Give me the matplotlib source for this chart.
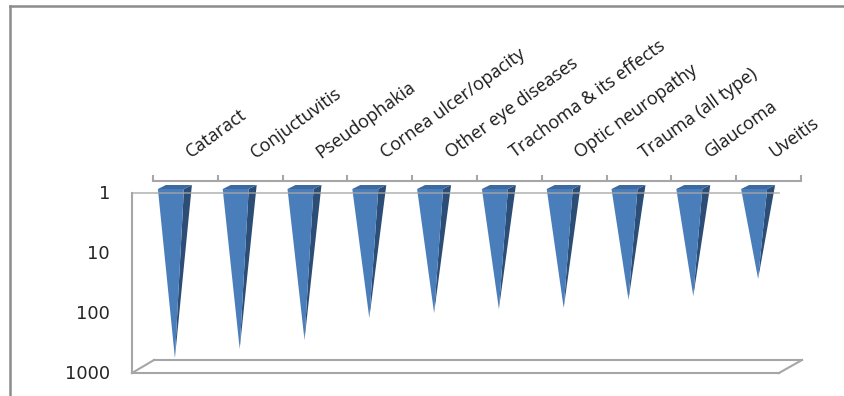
import numpy as np
import matplotlib
matplotlib.use("Agg")
import matplotlib.pyplot as plt
from matplotlib.lines import Line2D
from matplotlib.patches import Polygon
from matplotlib.transforms import IdentityTransform, ScaledTranslation

categories = ["Cataract", "Conjuctuvitis", "Pseudophakia", "Cornea ulcer/opacity",
              "Other eye diseases", "Trachoma & its effects", "Optic neuropathy",
              "Trauma (all type)", "Glaucoma", "Uveitis"]
values = [708, 500, 355, 153, 126, 108, 104, 76, 66, 34]
y_ticks = [1, 10, 100, 1000]

W, H = 844, 396
FRONT_COLOR = "#4a7ebb"
SIDE_COLOR = "#2c4d75"
TOP_COLOR = "#3c6aa0"
WALL_COLOR = "#a6a6a6"

fig = plt.figure(figsize=(W / 100, H / 100), dpi=100)


def fig_box(x0, y0, x1, y1):
    return [x0 / W, 1 - y1 / H, (x1 - x0) / W, (y1 - y0) / H]


# the axes is the back wall of the 3D box
ax = fig.add_axes(fig_box(153, 181, 801, 361))
ax.set_xlim(0, len(categories))
ax.set_yscale("log")
ax.set_ylim(1000, 1)
ax.patch.set_visible(False)
for s in ["left", "right", "bottom"]:
    ax.spines[s].set_visible(False)
ax.spines["top"].set_color(WALL_COLOR)
ax.spines["top"].set_linewidth(1.5)

ax.xaxis.tick_top()
ax.set_xticks(np.arange(len(categories) + 1))
ax.set_xticklabels([])
ax.set_xticks(np.arange(len(categories)) + 0.5, minor=True)
ax.set_xticklabels(categories, minor=True, rotation=36, rotation_mode="anchor",
                   ha="left", va="bottom", fontsize=13, color="#1a1a1a",
                   family="Open Sans")
ax.tick_params(axis="x", which="major", length=4.5, width=1.5, color=WALL_COLOR)
ax.tick_params(axis="x", which="minor", length=0, pad=14)
ax.yaxis.set_major_locator(plt.NullLocator())
ax.yaxis.set_minor_locator(plt.NullLocator())

# nudge the slanted labels to the right of their tick centres
shift = ScaledTranslation(8 / 100, 0, fig.dpi_scale_trans)
for label in ax.get_xticklabels(minor=True):
    label.set_transform(label.get_transform() + shift)

for t in y_ticks:
    ax.annotate(str(t), xy=(0, t), xycoords=("axes fraction", "data"),
                xytext=(-43, -13), textcoords="offset pixels", ha="right",
                va="center", fontsize=13, color="#262626", family="DejaVu Sans")


def to_px(x, v, dx=0, dy=0):
    # display position of a data point shifted by dx, dy pixels (dy up)
    px, py = ax.transData.transform((x, v))
    return (px + dx, py + dy)


def box_line(x0, y0, x1, y1, z=1):
    fig.add_artist(Line2D([x0 / W, x1 / W], [1 - y0 / H, 1 - y1 / H],
                          color=WALL_COLOR, lw=1.5, zorder=z))


# floor and left wall of the box
box_line(132, 193, 132, 373)
box_line(132, 373, 779, 373)
box_line(132, 373, 154, 360)
box_line(154, 360, 802, 360)
box_line(779, 373, 802, 360)

half_w = 13 / 64.8
for i, v in enumerate(values):
    c = i + 0.5
    tip = to_px(c, v, -10.5, -6)
    fl = to_px(c - half_w, 1, -14.5, -8)
    fr = to_px(c + half_w, 1, -14.5, -8)
    bl = to_px(c - half_w, 1, -6.5, -4)
    br = to_px(c + half_w, 1, -6.5, -4)
    for pts, col in [([fr, br, tip], SIDE_COLOR), ([fl, fr, br, bl], TOP_COLOR),
                     ([fl, fr, tip], FRONT_COLOR)]:
        fig.add_artist(Polygon(pts, closed=True, facecolor=col, edgecolor="none",
                               transform=IdentityTransform(), zorder=3))

# front edge of the wall runs over the cones
fig.add_artist(Line2D([132 / W, 779 / W], [1 - 193 / H, 1 - 193 / H],
                      color=WALL_COLOR, lw=1.2, alpha=0.8, zorder=4))

# chart area border
fig.add_artist(Line2D([10 / W, 10 / W], [0, 1 - 6 / H], color="#8c8c8c", lw=1.8))
fig.add_artist(Line2D([10 / W, 1], [1 - 6 / H, 1 - 6 / H], color="#8c8c8c", lw=1.8))

fig.savefig("out.png", dpi=100, facecolor="white")
